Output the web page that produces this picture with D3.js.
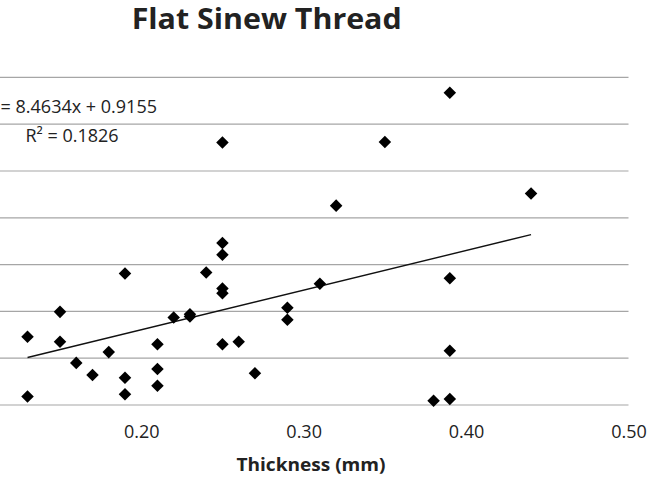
<!DOCTYPE html>
<html>
<head>
<meta charset="utf-8">
<script src="https://cdn.jsdelivr.net/npm/d3@7"></script>
<style>
  body { margin: 0; background: #fff; }
  svg { display: block; font-family: "Open Sans", sans-serif; }
</style>
</head>
<body>
<svg></svg>
<script>
// thickness (mm) of each sample
const thickness = [0.13, 0.13, 0.15, 0.15, 0.16, 0.17, 0.18, 0.19, 0.19, 0.19,
                   0.21, 0.21, 0.21, 0.22, 0.23, 0.23, 0.24, 0.25, 0.25, 0.25,
                   0.25, 0.25, 0.25, 0.26, 0.27, 0.29, 0.29, 0.31, 0.32, 0.35,
                   0.38, 0.39, 0.39, 0.39, 0.39, 0.44]
const strength = [2.46, 1.18, 2.99, 2.35, 1.90, 1.64, 2.13, 3.81, 1.58, 1.23,
                  2.30, 1.77, 1.41, 2.87, 2.94, 2.89, 3.83, 4.46, 4.21, 3.49,
                  3.39, 2.30, 6.61, 2.35, 1.68, 3.08, 2.82, 3.59, 5.26, 6.62,
                  1.09, 7.67, 3.71, 2.16, 1.13, 5.52]

// 0.10 is outside the visible crop, only these labels show
const xTicks = [0.2, 0.3, 0.4, 0.5]
const yTicks = [1, 2, 3, 4, 5, 6, 7, 8]
const slope = 8.4634
const intercept = 0.9155
const r2 = 0.1826

const w = 656
const h = 478

let svg = d3.select('svg')
            .attr('width', w)
            .attr('height', h)

// the plot is cropped on the left, so the 0.10 end sits off screen
let xScale = d3.scaleLinear()
               .domain([0.1, 0.5])
               .range([-21.2, 628.5])

let yScale = d3.scaleLinear()
               .domain([1, 8])
               .range([405, 77.4])

// gridlines
svg.append('g')
   .selectAll('line')
   .data(yTicks)
   .enter()
   .append('line')
   .attr('x1', xScale(0.1))
   .attr('x2', xScale(0.5))
   .attr('y1', (d) => yScale(d))
   .attr('y2', (d) => yScale(d))
   .attr('stroke', '#a6a6a6')
   .attr('stroke-width', 1.2)

// x axis labels
let xAxis = d3.axisBottom(xScale)
              .tickValues(xTicks)
              .tickFormat(d3.format('.2f'))
              .tickSize(0)
              .tickPadding(0)

svg.append('g')
   .attr('id', 'x-axis')
   .attr('transform', 'translate(0, 425)')
   .call(xAxis)
   .call(g => g.select('.domain').remove())
   .selectAll('text')
   .attr('dy', '0.72em')
   .style('font-family', '"Open Sans", sans-serif')
   .style('font-size', '18px')
   .style('fill', '#222')

// trendline over the data range
let xExtent = d3.extent(thickness)
svg.append('line')
   .attr('x1', xScale(xExtent[0]))
   .attr('y1', yScale(slope * xExtent[0] + intercept))
   .attr('x2', xScale(xExtent[1]))
   .attr('y2', yScale(slope * xExtent[1] + intercept))
   .attr('stroke', '#111')
   .attr('stroke-width', 1.4)

// diamond markers
let diamond = d3.symbol().type(d3.symbolDiamond2).size(100)
svg.append('g')
   .selectAll('path')
   .data(thickness)
   .enter()
   .append('path')
   .attr('d', diamond)
   .attr('transform', (d, i) => 'translate(' + xScale(d) + ',' + yScale(strength[i]) + ')')
   .attr('fill', '#000')

// trendline label (its left end is cropped like in the original)
svg.append('text')
   .attr('x', 157)
   .attr('y', 112.7)
   .attr('text-anchor', 'end')
   .style('font-size', '18px')
   .style('fill', '#222')
   .text('y = ' + slope + 'x + ' + intercept)

svg.append('text')
   .attr('x', 72)
   .attr('y', 142)
   .attr('text-anchor', 'middle')
   .style('font-size', '18px')
   .style('fill', '#222')
   .text('R² = ' + r2)

// titles
svg.append('text')
   .attr('x', 266.7)
   .attr('y', 29.3)
   .attr('text-anchor', 'middle')
   .attr('textLength', 270)
   .attr('lengthAdjust', 'spacingAndGlyphs')
   .style('font-size', '28px')
   .style('font-weight', 'bold')
   .style('fill', '#222')
   .text('Flat Sinew Thread')

svg.append('text')
   .attr('x', 311)
   .attr('y', 471)
   .attr('text-anchor', 'middle')
   .attr('textLength', 149)
   .attr('lengthAdjust', 'spacingAndGlyphs')
   .style('font-size', '18.5px')
   .style('font-weight', 'bold')
   .style('fill', '#222')
   .text('Thickness (mm)')
</script>
</body>
</html>
